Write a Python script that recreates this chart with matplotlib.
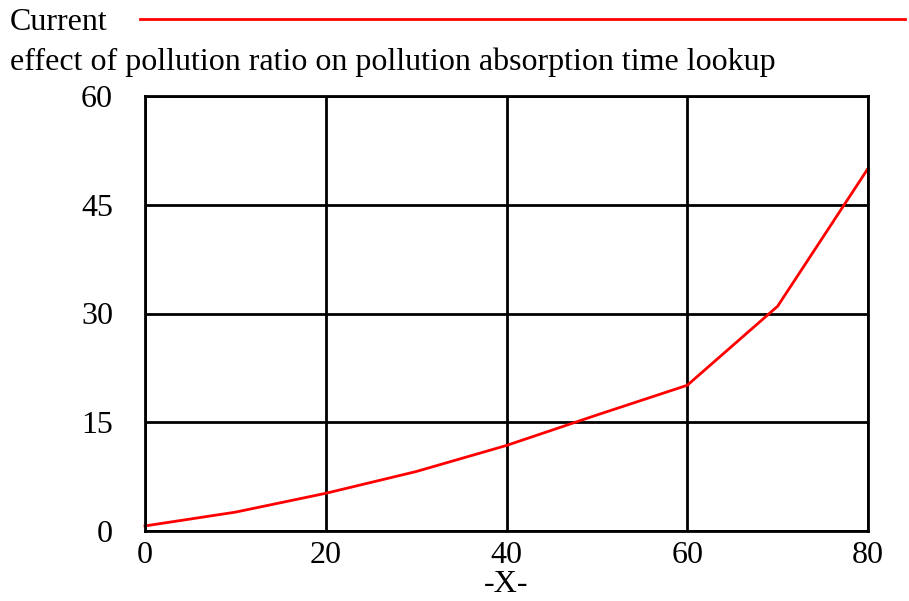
import matplotlib.pyplot as plt

# lookup table
x_vals = [0, 10, 20, 30, 40, 50, 60, 70, 80]
y_vals = [0.7, 2.6, 5.2, 8.2, 11.8, 16.0, 20.1, 31.0, 50.0]
x_ticks = [0, 20, 40, 60, 80]
y_ticks = [0, 15, 30, 45, 60]

plt.rcParams['font.family'] = ['Liberation Serif', 'DejaVu Serif']
fs = 23

fig = plt.figure(figsize=(9.09, 6.01), dpi=100)
ax = fig.add_axes([145/909, 1 - 531/601, 723/909, 435/601])

ax.plot(x_vals, y_vals, color='red', lw=2, clip_on=False)

ax.set_xlim(0, 80)
ax.set_ylim(0, 60)
ax.set_xticks(x_ticks)
ax.set_yticks(y_ticks)
ax.grid(True, color='black', lw=2)
ax.set_axisbelow(True)
for s in ax.spines.values():
    s.set_color('black')
    s.set_linewidth(2)
ax.tick_params(length=0, labelsize=fs)
ax.tick_params(axis='y', pad=23)
ax.tick_params(axis='x', pad=7)
ax.set_xlabel('-X-', fontsize=fs, labelpad=0)

# legend / title area at the top
fig.text(10/909, 1 - 22/601, 'Current', fontsize=fs, va='center', ha='left')
fig.add_artist(plt.Line2D([140/909, 905/909], [1 - 19/601, 1 - 19/601],
                          color='red', lw=2))
fig.text(10/909, 1 - 62/601, 'effect of pollution ratio on pollution absorption time lookup',
         fontsize=fs, va='center', ha='left')

fig.savefig('out.png', dpi=100)
